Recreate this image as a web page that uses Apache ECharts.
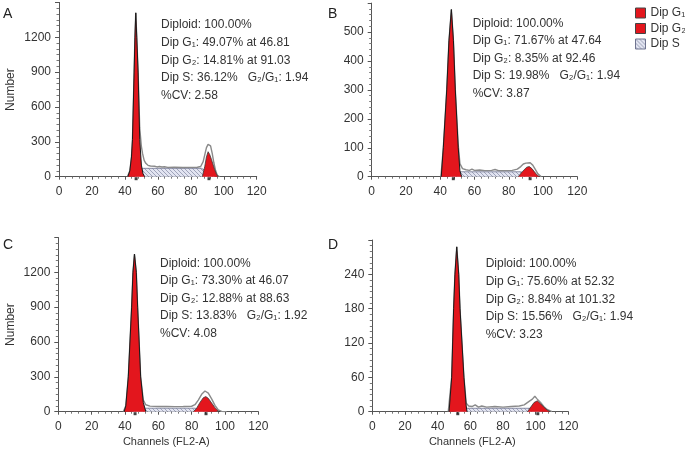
<!DOCTYPE html>
<html>
<head>
<meta charset="utf-8">
<script src="https://cdn.jsdelivr.net/npm/echarts@6/dist/echarts.min.js"></script>
<style>html,body{margin:0;padding:0;background:#fff}#c{width:685px;height:453px}</style>
</head>
<body>
<div id="c"></div>
<script>
// ---------- data ----------
const panelLetters = ['A', 'B', 'C', 'D'];
const xTickLabels = [0, 20, 40, 60, 80, 100, 120];
const yMaxes = [1500, 600, 1500, 300];
const yIntervals = [300, 100, 300, 60];

const statsA = ['Diploid: 100.00%', 'Dip G\u2081: 49.07% at 46.81', 'Dip G\u2082: 14.81% at 91.03', 'Dip S: 36.12%   G\u2082/G\u2081: 1.94', '%CV: 2.58'];
const statsB = ['Diploid: 100.00%', 'Dip G\u2081: 71.67% at 47.64', 'Dip G\u2082: 8.35% at 92.46', 'Dip S: 19.98%   G\u2082/G\u2081: 1.94', '%CV: 3.87'];
const statsC = ['Diploid: 100.00%', 'Dip G\u2081: 73.30% at 46.07', 'Dip G\u2082: 12.88% at 88.63', 'Dip S: 13.83%   G\u2082/G\u2081: 1.92', '%CV: 4.08'];
const statsD = ['Diploid: 100.00%', 'Dip G\u2081: 75.60% at 52.32', 'Dip G\u2082: 8.84% at 101.32', 'Dip S: 15.56%   G\u2082/G\u2081: 1.94', '%CV: 3.23'];

const peaksA = [46.81, 91.03];
const peaksB = [47.64, 92.46];
const peaksC = [46.07, 88.63];
const peaksD = [52.32, 101.32];

// Panel A
const g1A = [[41.8,0],[43,50],[44,170],[44.6,320],[45.6,900],[46.1,1200],[46.6,1410],[47.2,1200],[48,900],[49,320],[50,100],[51,25],[52,0]];
const g2A = [[87,0],[88.5,90],[89.5,170],[90.5,215],[91.5,190],[92.5,150],[93.5,105],[94.5,60],[95.5,25],[96.5,0]];
const sA = [[46,0],[50,72],[86.5,72],[95,0]];
const totalA = [[41.5,0],[43,50],[44,170],[44.6,320],[45.6,900],[46.1,1200],[46.6,1410],[47.2,1200],[48,900],[49,420],[50,260],[50.7,200],[51.7,140],[52.7,115],[54,98],[55.5,92],[56.7,86],[58,90],[59.5,84],[61,88],[62.5,83],[64,86],[66,80],[70,81],[75,79],[80,80],[84,81],[86,88],[87.5,130],[88.5,190],[89.5,250],[90.5,278],[91.2,287],[92,265],[93,200],[94,120],[95,55],[96,15],[97.5,0]];

// Panel B
const g1B = [[40.6,0],[41.8,100],[43.8,300],[45.1,470],[46.5,578],[47.7,470],[48.8,300],[50.5,100],[51.5,20],[52.5,0]];
const g2B = [[85.5,0],[88,18],[90.5,33],[92,35],[93.5,28],[95,17],[96.5,6],[98,0]];
const sB = [[45,0],[52,17],[87,17],[96,0]];
const totalB = [[40.4,0],[41.8,100],[43.8,300],[45.1,470],[46.5,578],[47.7,470],[48.8,300],[50.5,110],[51.5,45],[53,28],[55,24],[57,22],[58.5,26],[60,22],[63,23],[66,21],[70,22],[72,25],[74,21],[78,21],[82,22],[85,26],[87,35],[88.5,44],[90,47],[91,44],[92.5,48],[94,40],[95.5,25],[97,10],[99,0]];

// Panel C
const g1C = [[39.5,0],[40.5,50],[42,300],[44,900],[44.8,1200],[45.7,1357],[46.8,1200],[47.6,900],[49.4,300],[51,80],[52.5,0]];
const g2C = [[81,0],[83,30],[85,80],[87,120],[88.5,130],[90,115],[92,75],[94,35],[96,5],[97,0]];
const sC = [[44,0],[50,30],[82,30],[90,0]];
const totalC = [[39,0],[40.5,50],[42,300],[44,900],[44.8,1200],[45.7,1357],[46.8,1200],[47.6,900],[49.4,300],[51,100],[52.5,60],[55,48],[60,45],[65,45],[70,44],[75,45],[80,47],[82,60],[84,100],[86,150],[88,178],[90,160],[92,110],[94,55],[96,15],[98,3],[101,0]];

// Panel D
const g1D = [[47,0],[48.6,60],[49.8,180],[50.6,240],[51.7,288],[52.9,240],[53.7,180],[56.1,60],[57.5,10],[58,0]];
const g2D = [[95,0],[97,8],[99,16],[101,19],[103,14],[105,8],[107,3],[109,0]];
const sD = [[50,0],[56,6],[97,6],[104,0]];
const totalD = [[46.5,0],[48.6,60],[49.8,180],[50.6,240],[51.7,288],[52.9,240],[53.7,180],[56.1,60],[57.5,15],[59,10],[61,9],[63,12],[65,8],[67,10],[70,8],[75,9],[80,8],[85,9],[90,10],[93,12],[96,18],[98,22],[99.5,27],[101,22],[103,16],[105,9],[107,4],[110,0]];

// ---------- layout & style ----------
const panels = [
  {g1: g1A, g2: g2A, s: sA, total: totalA, stats: statsA, peaks: peaksA},
  {g1: g1B, g2: g2B, s: sB, total: totalB, stats: statsB, peaks: peaksB},
  {g1: g1C, g2: g2C, s: sC, total: totalC, stats: statsC, peaks: peaksC},
  {g1: g1D, g2: g2D, s: sD, total: totalD, stats: statsD, peaks: peaksD}
];
const grids = [
  {left: 59, top: 2.4, width: 197.7, height: 174.3},
  {left: 371.7, top: 3.1, width: 205.6, height: 173.6},
  {left: 58.3, top: 237.5, width: 200, height: 174.2},
  {left: 372.3, top: 240, width: 196, height: 171.7}
];
const yMinorSplits = [6, 5, 6, 6];
const letterPos = [[3, 7], [328, 7], [3, 238], [328, 238]];
const statsPos = [[161, 16.2], [472.7, 14.5], [160, 254.5], [485.7, 255.2]];

const FONT = '"Liberation Sans", Arial, sans-serif';
const RED = '#e3161d';
const AXIS = '#555';
const TXT = '#333';

function hatch() {
  const c = document.createElement('canvas');
  c.width = 4; c.height = 4;
  const g = c.getContext('2d');
  g.fillStyle = '#e2e4f1';
  g.fillRect(0, 0, 4, 4);
  g.strokeStyle = '#8e93ac';
  g.lineWidth = 0.8;
  g.beginPath();
  g.moveTo(-1, -1); g.lineTo(5, 5);
  g.moveTo(-1, 3); g.lineTo(1, 5);
  g.moveTo(3, -1); g.lineTo(5, 1);
  g.stroke();
  return c;
}
const hatchFill = {image: hatch(), repeat: 'repeat'};

const xAxes = [], yAxes = [], series = [], graphics = [];
panels.forEach((p, i) => {
  xAxes.push({
    type: 'value', gridIndex: i, min: xTickLabels[0], max: xTickLabels[xTickLabels.length - 1], interval: 20,
    axisLine: {show: true, onZero: false, lineStyle: {color: AXIS, width: 1}},
    axisTick: {show: true, length: 3, lineStyle: {color: AXIS}},
    minorTick: {show: true, splitNumber: 5, length: 2, lineStyle: {color: '#777'}},
    splitLine: {show: false},
    axisLabel: {color: TXT, fontSize: 12, fontFamily: FONT, margin: 9, formatter: v => String(v)},
    name: i >= 2 ? 'Channels (FL2-A)' : '',
    nameLocation: 'middle', nameGap: 25,
    nameTextStyle: {color: TXT, fontSize: 11, fontFamily: FONT, padding: i === 2 ? [0, 0, 0, 16] : [0, 0, 0, 4]}
  });
  yAxes.push({
    type: 'value', gridIndex: i, min: 0, max: yMaxes[i], interval: yIntervals[i],
    axisLine: {show: true, lineStyle: {color: AXIS, width: 1}},
    axisTick: {show: true, length: 4, lineStyle: {color: AXIS}},
    minorTick: {show: true, splitNumber: yMinorSplits[i], length: 2.5, lineStyle: {color: '#777'}},
    splitLine: {show: false},
    axisLabel: {color: TXT, fontSize: 12, fontFamily: FONT, margin: 8, showMaxLabel: false, formatter: v => String(v)},
    name: (i % 2 === 0) ? 'Number' : '',
    nameLocation: 'middle', nameGap: 42, nameRotate: 90,
    nameTextStyle: {color: TXT, fontSize: 12, fontFamily: FONT}
  });
  series.push({
    name: 'Dip S', type: 'line', xAxisIndex: i, yAxisIndex: i, data: p.s,
    symbol: 'none', lineStyle: {color: '#6f7490', width: 0.8},
    itemStyle: {color: '#c9cce0'},
    areaStyle: {color: hatchFill, opacity: 1}, z: 2, animation: false
  });
  series.push({
    name: 'Data', type: 'line', xAxisIndex: i, yAxisIndex: i, data: p.total,
    symbol: 'none', lineStyle: {color: '#8a8a8a', width: 1.4},
    itemStyle: {color: '#8a8a8a'}, z: 3, animation: false
  });
  series.push({
    name: 'Dip G\u2081', type: 'line', xAxisIndex: i, yAxisIndex: i, data: p.g1,
    symbol: 'none', lineStyle: {color: '#1a1a1a', width: 1},
    itemStyle: {color: RED},
    areaStyle: {color: RED, opacity: 1}, z: 4, animation: false
  });
  series.push({
    name: 'Dip G\u2082', type: 'line', xAxisIndex: i, yAxisIndex: i, data: p.g2,
    symbol: 'none', lineStyle: {color: '#3a3a3a', width: 0.8},
    itemStyle: {color: RED},
    areaStyle: {color: RED, opacity: 1}, z: 4, animation: false
  });
  series.push({
    name: 'Peak', type: 'scatter', xAxisIndex: i, yAxisIndex: i,
    data: p.peaks.map(v => [v, 0]), symbol: 'rect', symbolSize: [3, 3], symbolOffset: [0, 2],
    itemStyle: {color: '#111'}, z: 6, clip: false, animation: false, silent: true
  });
  graphics.push({
    type: 'text', left: letterPos[i][0], top: letterPos[i][1],
    style: {text: panelLetters[i], fill: '#222', font: '14px ' + FONT}
  });
  graphics.push({
    type: 'text', left: statsPos[i][0], top: statsPos[i][1],
    style: {text: p.stats.join('\n'), fill: TXT, font: '12px ' + FONT, lineHeight: 17.6}
  });
});

const chart = echarts.init(document.getElementById('c'), null, {renderer: 'canvas'});
chart.setOption({
  backgroundColor: '#fff',
  animation: false,
  grid: grids,
  xAxis: xAxes,
  yAxis: yAxes,
  series: series,
  legend: {
    orient: 'vertical', left: 635, top: 7, itemWidth: 10, itemHeight: 10, itemGap: 3.5, padding: 0,
    textStyle: {color: TXT, fontSize: 12, fontFamily: FONT},
    data: [
      {name: 'Dip G\u2081', icon: 'rect', itemStyle: {color: RED, borderColor: '#444', borderWidth: 1}, lineStyle: {opacity: 0}},
      {name: 'Dip G\u2082', icon: 'rect', itemStyle: {color: RED, borderColor: '#444', borderWidth: 1}, lineStyle: {opacity: 0}},
      {name: 'Dip S', icon: 'rect', itemStyle: {color: hatchFill, borderColor: '#6f7490', borderWidth: 1}, lineStyle: {opacity: 0}}
    ],
    selectedMode: false
  },
  graphic: graphics
});
</script>
</body>
</html>
